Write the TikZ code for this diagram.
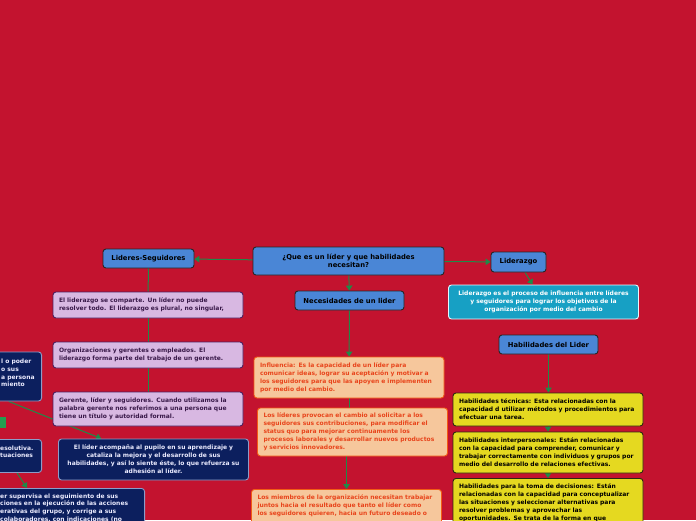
\documentclass[tikz,border=0pt]{standalone}
\usepackage{fontspec}
\setmainfont{DejaVu Sans}
\usepackage{tikz}
\usetikzlibrary{arrows.meta,calc,positioning}
\usepackage{xcolor}

\definecolor{fondo}{HTML}{C3132F}
\definecolor{azultema}{HTML}{4A86D6}
\definecolor{rosafondo}{HTML}{D8B8E2}
\definecolor{rosalinea}{HTML}{4A2060}
\definecolor{rosatexto}{HTML}{3A1A4A}
\definecolor{turquesa}{HTML}{17A0C4}
\definecolor{marino}{HTML}{0C1F5E}
\definecolor{marinolinea}{HTML}{8C9CC8}
\definecolor{durazno}{HTML}{F6C79C}
\definecolor{duraznolinea}{HTML}{F25A14}
\definecolor{duraznotexto}{HTML}{E8451C}
\definecolor{amarillo}{HTML}{E5D920}
\definecolor{amarillolinea}{HTML}{2A2A10}
\definecolor{verdeflecha}{HTML}{1F8A48}
\definecolor{verdenota}{HTML}{22A050}

\pgfdeclarelayer{fondocapa}
\pgfdeclarelayer{enlaces}
\pgfsetlayers{fondocapa,enlaces,main}

\begin{document}
\begin{tikzpicture}[x=1pt, y=-1pt,
  tema/.style={draw=black!85, fill=azultema, line width=0.9pt, rounded corners=3pt, align=center, inner sep=2pt, font=\bfseries\fontsize{6.8}{8.5}\selectfont},
  tarjeta/.style={line width=0.9pt, rounded corners=3pt, align=left, text width=178pt, inner xsep=6pt, inner ysep=2pt, font=\bfseries\fontsize{6}{8}\selectfont},
  rosa/.style={tarjeta, draw=rosalinea, fill=rosafondo, text=rosatexto},
  naranja/.style={tarjeta, draw=duraznolinea, fill=durazno, text=duraznotexto},
  amarilla/.style={tarjeta, draw=amarillolinea, fill=amarillo, text=black},
  azul/.style={tarjeta, draw=marinolinea, fill=marino, text=white!92!blue},
  celeste/.style={tarjeta, align=center, draw=white!90!cyan, fill=turquesa, text=white},
  texto/.style={align=left, inner sep=0pt, text=white!92!blue, font=\bfseries\fontsize{6}{7.6}\selectfont},
  flecha/.style={draw=verdeflecha, line width=1pt, -{Triangle[width=6.5pt,length=5pt]}},
  linea/.style={draw=verdeflecha, line width=1pt}]

\useasboundingbox (0,0) rectangle (696,520);
\begin{pgfonlayer}{fondocapa}
  \fill[fondo] (0,0) rectangle (696,520);
\end{pgfonlayer}

% temas
\node[tema, minimum width=191pt, minimum height=28pt] (pregunta) at (348.5,261) {¿Que es un líder y que habilidades\\necesitan?};
\node[tema, minimum width=91pt, minimum height=19pt] (lideres) at (148.5,258.5) {Lideres-Seguidores};
\node[tema, minimum width=55pt, minimum height=20pt] (liderazgo) at (518.5,262) {Liderazgo};
\node[tema, minimum width=109pt, minimum height=19pt] (necesidades) at (349.5,300.5) {Necesidades de un lider};
\node[tema, minimum width=99pt, minimum height=19pt] (habilidades) at (548.5,344.5) {Habilidades del Lider};

\node[celeste, minimum height=34pt] (definicion) at (543.5,302) {Liderazgo es el proceso de influencia entre líderes\\y seguidores para lograr los objetivos de la\\organización por medio del cambio};

% lideres-seguidores
\node[rosa, minimum height=26pt] (comparte) at (148,305) {El liderazgo se comparte. Un líder no puede\\resolver todo. El liderazgo es plural, no singular,};
\node[rosa, minimum height=26pt] (gerentes) at (148,355) {Organizaciones y gerentes o empleados. El\\liderazgo forma parte del trabajo de un gerente.};
\node[rosa, minimum height=34pt] (gerente) at (148,409) {Gerente, líder y seguidores. Cuando utilizamos la\\palabra gerente nos referimos a una persona que\\tiene un título y autoridad formal.};

\node[azul, align=center, minimum height=41pt] (acompana) at (153.5,459.5) {El líder acompaña al pupilo en su aprendizaje y\\cataliza la mejora y el desarrollo de sus\\habilidades, y así lo siente éste, lo que refuerza su\\adhesión al líder.};

\node[azul, anchor=east, minimum height=49pt] (poder) at (42,376.5) {};
\node[texto, anchor=west] (podertexto) at (1,373) {l o poder\\o sus\\a persona\\miento};
\node[fill=verdenota, anchor=east, minimum width=20pt, minimum height=11pt, inner sep=0pt] (nota) at (6,422.5) {};
\node[azul, anchor=north east, minimum height=33pt] (resolutiva) at (42,439) {};
\node[texto, anchor=north west] (resolutivatexto) at (0,445.5) {esolutiva.\\tuaciones};
\node[azul, anchor=north east, text width=248pt, minimum height=50pt] (supervisa) at (145,488) {};
\node[texto, anchor=north west] (supervisatexto) at (0,493.5) {er supervisa el seguimiento de sus\\ciones en la ejecución de las acciones\\erativas del grupo, y corrige a sus\\colaboradores, con indicaciones (no};

% necesidades
\node[naranja, minimum height=41pt] (influencia) at (349,377.5) {Influencia: Es la capacidad de un líder para\\comunicar ideas, lograr su aceptación y motivar a\\los seguidores para que las apoyen e implementen\\por medio del cambio.};
\node[naranja, minimum height=48pt] (cambio) at (352.5,432) {Los líderes provocan el cambio al solicitar a los\\seguidores sus contribuciones, para modificar el\\status quo para mejorar continuamente los\\procesos laborales y desarrollar nuevos productos\\y servicios innovadores.};
\node[naranja, anchor=north, inner ysep=5pt] (miembros) at (346.5,489) {Los miembros de la organización necesitan trabajar\\juntos hacia el resultado que tanto el líder como\\los seguidores quieren, hacia un futuro deseado o\\\mbox{}\\\mbox{}};

% habilidades
\node[amarilla, minimum height=33pt] (tecnicas) at (548,409.5) {Habilidades técnicas: Esta relacionadas con la\\capacidad d utilizar métodos y procedimientos para\\efectuar una tarea.};
\node[amarilla, minimum height=41pt] (interpersonales) at (548,452.5) {Habilidades interpersonales: Están relacionadas\\con la capacidad para comprender, comunicar y\\trabajar correctamente con individuos y grupos por\\medio del desarrollo de relaciones efectivas.};
\node[amarilla, anchor=north, inner ysep=5pt] (decisiones) at (548,478) {Habilidades para la toma de decisiones: Están\\relacionadas con la capacidad para conceptualizar\\las situaciones y seleccionar alternativas para\\resolver problemas y aprovechar las\\oportunidades. Se trata de la forma en que\\\mbox{}\\\mbox{}};

\begin{pgfonlayer}{enlaces}
\draw[flecha] (pregunta) -- (lideres);
\draw[flecha] (pregunta) -- (liderazgo);
\draw[flecha] (pregunta) -- (necesidades);
\draw[flecha] (liderazgo) -- (definicion);
\draw[linea] (lideres) -- (comparte);
\draw[linea] (comparte) -- (gerentes);
\draw[linea] (gerentes) -- (gerente);
\draw[flecha] (poder) -- (acompana);
\draw[flecha] ($(resolutiva.south east)+(-25,0)$) -- ($(supervisa.north east)+(-118,0)$);
\draw[flecha] (necesidades) -- (influencia);
\draw[linea] (influencia) -- (influencia |- cambio.north);
\draw[flecha] (cambio.south -| miembros) -- (miembros);
\draw[flecha] (habilidades) -- (habilidades |- tecnicas.north);
\draw[flecha] (tecnicas) -- (interpersonales);
\draw[flecha] (interpersonales) -- (decisiones);
\end{pgfonlayer}

\end{tikzpicture}
\end{document}
